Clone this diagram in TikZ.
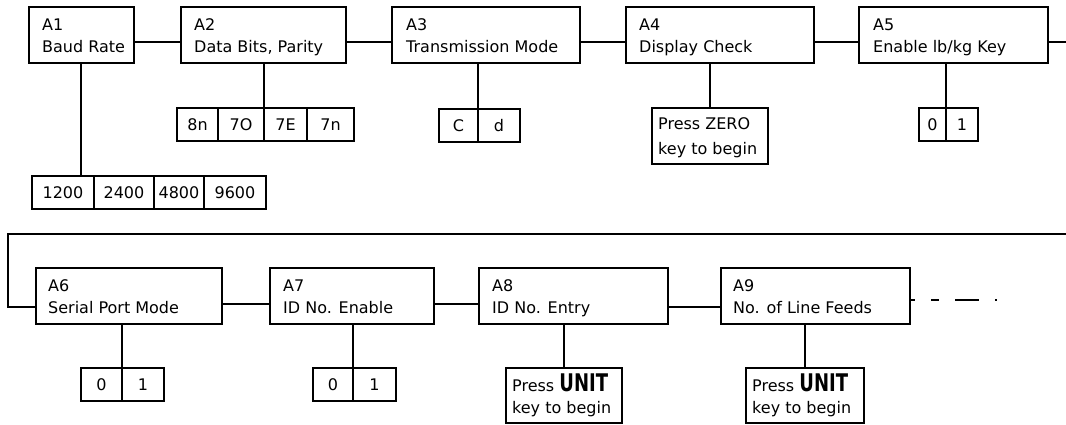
\documentclass[tikz,border=0pt]{standalone}
\usepackage{fontspec}
\setmainfont{DejaVu Sans}
\usepackage{graphicx}
\usetikzlibrary{positioning,calc}

\tikzset{
  stepbox/.style={draw, line width=2pt, anchor=north west, minimum width=#1, minimum height=56pt, inner sep=0pt, outer sep=0pt},
  steplabel/.style={anchor=west, align=left, inner sep=0pt, text depth=0pt, font=\fontsize{16}{22}\selectfont},
  optcell/.style={draw, line width=2pt, minimum width=#1, minimum height=33pt, inner sep=0pt, outer sep=0pt, font=\fontsize{16}{22}\selectfont},
  notebox/.style={draw, line width=2pt, anchor=north west, minimum width=#1, minimum height=55pt, inner sep=0pt, outer sep=0pt},
  link/.style={line width=2pt},
}
\newcommand{\unitkey}{{\fontsize{18}{22}\selectfont\bfseries\scalebox{1}[1.35]{UNIT}}}

\begin{document}
\begin{tikzpicture}[x=1pt, y=-1pt]
  \useasboundingbox (0,0) rectangle (1066,424);

  % Top row of steps
  \node[stepbox=105pt] (a1) at (29,7) {};
  \node[steplabel] (a1t) at ([shift={(13,1)}]a1.west) {A1\\Baud Rate};
  \node[stepbox=165pt] (a2) at (181,7) {};
  \node[steplabel] (a2t) at ([shift={(13,1)}]a2.west) {A2\\Data Bits, Parity};
  \node[stepbox=188pt] (a3) at (392,7) {};
  \node[steplabel] (a3t) at ([shift={(14,1)}]a3.west) {A3\\Transmission Mode};
  \node[stepbox=188pt] (a4) at (626,7) {};
  \node[steplabel] (a4t) at ([shift={(13,1)}]a4.west) {A4\\Display Check};
  \node[stepbox=189pt] (a5) at (859,7) {};
  \node[steplabel] (a5t) at ([shift={(14,1)}]a5.west) {A5\\Enable lb/kg Key};

  % Bottom row of steps
  \node[stepbox=186pt] (a6) at (36,268) {};
  \node[steplabel] (a6t) at ([shift={(12,1)}]a6.west) {A6\\Serial Port Mode};
  \node[stepbox=164pt] (a7) at (270,268) {};
  \node[steplabel] (a7t) at ([shift={(13,1)}]a7.west) {A7\\ID No. Enable};
  \node[stepbox=189pt] (a8) at (479,268) {};
  \node[steplabel] (a8t) at ([shift={(13,1)}]a8.west) {A8\\ID No. Entry};
  \node[stepbox=189pt] (a9) at (721,268) {};
  \node[steplabel] (a9t) at ([shift={(12,1)}]a9.west) {A9\\No. of Line Feeds};

  % Option cells
  \node[optcell=62pt, anchor=north west] (o1200) at (32,176) {1200};
  \node[optcell=60pt, right=0pt of o1200] (o2400) {2400};
  \node[optcell=50pt, right=0pt of o2400] (o4800) {4800};
  \node[optcell=62pt, right=0pt of o4800] (o9600) {9600};

  \node[optcell=41pt, anchor=north west] (o8n) at (177,108) {8n};
  \node[optcell=46pt, right=0pt of o8n] (o7o) {7O};
  \node[optcell=43pt, right=0pt of o7o] (o7e) {7E};
  \node[optcell=47pt, right=0pt of o7e] (o7n) {7n};

  \node[optcell=39pt, anchor=north west] (oc) at (439,109) {C};
  \node[optcell=42pt, right=0pt of oc] (od) {d};

  \node[optcell=27pt, anchor=north west] (o0a5) at (919,108) {0};
  \node[optcell=32pt, right=0pt of o0a5] (o1a5) {1};

  \node[optcell=41pt, anchor=north west] (o0a6) at (81,368) {0};
  \node[optcell=42pt, right=0pt of o0a6] (o1a6) {1};

  \node[optcell=40pt, anchor=north west] (o0a7) at (313,368) {0};
  \node[optcell=43pt, right=0pt of o0a7] (o1a7) {1};

  % Key notes
  \node[notebox=116pt, minimum height=56pt] (a4n) at (652,108) {};
  \node[steplabel] (a4nt) at ([xshift=6pt]a4n.west) {Press ZERO\\[3pt]key to begin};
  \node[notebox=116pt] (a8n) at (506,368) {};
  \node[steplabel] (a8nt) at ([shift={(6,-2)}]a8n.west) {Press \unitkey\\key to begin};
  \node[notebox=118pt] (a9n) at (746,368) {};
  \node[steplabel] (a9nt) at ([shift={(6,-2)}]a9n.west) {Press \unitkey\\key to begin};

  % Connectors along the rows
  \draw[link] ([yshift=-7pt]a1.east) -- ([yshift=-7pt]a2.west);
  \draw[link] ([yshift=-7pt]a2.east) -- ([yshift=-7pt]a3.west);
  \draw[link] ([yshift=-7pt]a3.east) -- ([yshift=-7pt]a4.west);
  \draw[link] ([yshift=-7pt]a4.east) -- ([yshift=-7pt]a5.west);
  \coordinate (edgeR) at (1066,42);
  \draw[link] ([yshift=-7pt]a5.east) -- (edgeR);
  \coordinate (wrapR) at (1066,234);
  \coordinate (wrapL) at (8,234);
  \draw[link] (wrapR) -- (wrapL) |- ([yshift=-11pt]a6.west);
  \draw[link] ([yshift=-8pt]a6.east) -- ([yshift=-8pt]a7.west);
  \draw[link] ([yshift=-8pt]a7.east) -- ([yshift=-8pt]a8.west);
  \draw[link] ([yshift=-11pt]a8.east) -- ([yshift=-11pt]a9.west);
  \coordinate (trail) at (997,300);
  \draw[link, dash pattern=on 5pt off 16pt on 8pt off 16pt on 24pt off 16pt on 2pt off 20pt] ([yshift=-4pt]a9.east) -- (trail);

  % Drops to the options
  \draw[link] ([xshift=-0.5pt]a1.south) -- ([xshift=-0.5pt]a1.south |- o1200.north);
  \draw[link] (o7e.north west |- a2.south) -- (o7e.north west);
  \draw[link] (od.north west |- a3.south) -- (od.north west);
  \draw[link] (a4n.north |- a4.south) -- (a4n.north);
  \draw[link] (o1a5.north west |- a5.south) -- (o1a5.north west);
  \draw[link] (o1a6.north west |- a6.south) -- (o1a6.north west);
  \draw[link] (o1a7.north west |- a7.south) -- (o1a7.north west);
  \draw[link] (a8n.north |- a8.south) -- (a8n.north);
  \draw[link] (a9n.north |- a9.south) -- (a9n.north);
\end{tikzpicture}
\end{document}
